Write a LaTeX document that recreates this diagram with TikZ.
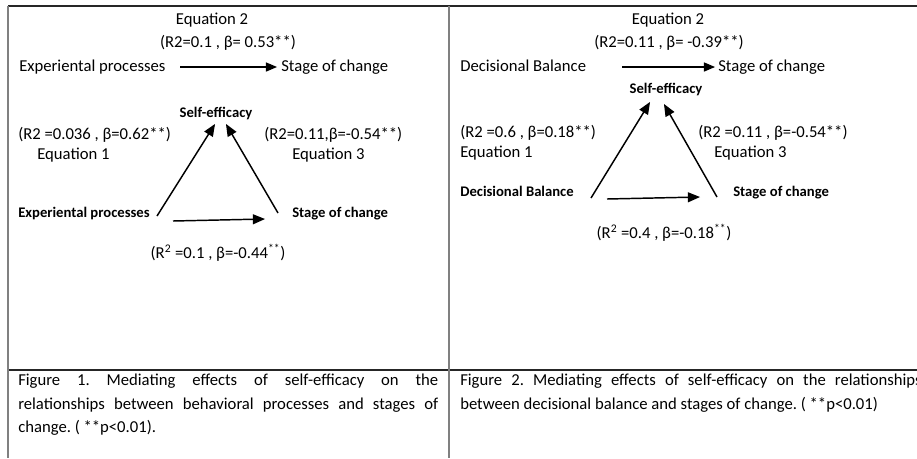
\documentclass[tikz,border=0pt]{standalone}
\usepackage{fontspec}
\setmainfont{Carlito}
\usetikzlibrary{arrows}
\frenchspacing

\begin{document}
\begin{tikzpicture}[x=0.75pt,y=-0.75pt,->,>=triangle 45,
    txt/.style={font=\fontsize{12.5}{15}\selectfont,inner sep=0pt},
    var node/.style={font=\fontsize{11}{13}\selectfont\bfseries,inner sep=0pt},
    link/.style={->,line width=1.1pt},
    caption/.style={font=\fontsize{12.5}{17.6}\selectfont,inner sep=0pt,align=justify,anchor=north west}]
  \clip (0,0) rectangle (917,458);
  % table rules
  \path[-,line width=1.1pt,black!85] (8,6) edge (917,6);
  \path[-,line width=1.1pt,black!85] (8,370) edge (917,370);
  \path[-,line width=1.5pt,gray] (8,6) edge (8,458);
  \path[-,line width=1.5pt,gray] (449,6) edge (449,458);

  \begin{scope}% figure 1
    \node[txt,anchor=base] (eqa) at (212,24) {Equation 2};
    \node[txt,anchor=base] (ra) at (228,47) {(R2=0.1 , β= 0.53**)};
    \node[txt,anchor=base west] (expa) at (19,71) {Experiental processes};
    \node[txt,anchor=base west] (soca) at (281,71) {Stage of change};
    \node[var node,anchor=base] (sea) at (216,117) {Self-efficacy};
    \node[txt,anchor=base west] (r1a) at (18,139) {(R2 =0.036 , β=0.62**)};
    \node[txt,anchor=base west] (e1a) at (37,159) {Equation 1};
    \node[txt,anchor=base west] (r3a) at (264,139) {(R2=0.11,β=-0.54**)};
    \node[txt,anchor=base west] (e3a) at (292,159) {Equation 3};
    \node[var node,anchor=base west] (expb) at (18,217) {Experiental processes};
    \node[var node,anchor=base west] (socb) at (292,217) {Stage of change};
    \node[txt,anchor=base] (rba) at (218,258) {(R\textsuperscript{2} =0.1 , β=-0.44\textsuperscript{**})};
    \coordinate (a1) at (180,67);  \coordinate (a2) at (277,67);
    \coordinate (b1) at (157,216); \coordinate (b2) at (215,124);
    \coordinate (c1) at (278,213); \coordinate (c2) at (226,124);
    \coordinate (d1) at (173,221); \coordinate (d2) at (265,219);
    \path[link,line width=0.9pt] (a1) edge (a2);
    \path[link] (b1) edge (b2);
    \path[link] (c1) edge (c2);
    \path[link] (d1) edge (d2);
  \end{scope}

  \begin{scope}% figure 2
    \node[txt,anchor=base] (eqb) at (668,24) {Equation 2};
    \node[txt,anchor=base] (rb) at (669,47) {(R2=0.11 , β= -0.39**)};
    \node[txt,anchor=base west] (dba) at (460,71) {Decisional Balance};
    \node[txt,anchor=base west] (socc) at (718,71) {Stage of change};
    \node[var node,anchor=base] (seb) at (666,93) {Self-efficacy};
    \node[txt,anchor=base west] (r1b) at (460,137) {(R2 =0.6 , β=0.18**)};
    \node[txt,anchor=base west] (e1b) at (460,157) {Equation 1};
    \node[txt,anchor=base west] (r3b) at (698,137) {(R2 =0.11 , β=-0.54**)};
    \node[txt,anchor=base west] (e3b) at (714,157) {Equation 3};
    \node[var node,anchor=base west] (dbb) at (460,196) {Decisional Balance};
    \node[var node,anchor=base west] (socd) at (733,196) {Stage of change};
    \node[txt,anchor=base] (rbb) at (664,238) {(R\textsuperscript{2} =0.4 , β=-0.18\textsuperscript{**})};
    \coordinate (f1) at (622,67);  \coordinate (f2) at (715,67);
    \coordinate (g1) at (591,198); \coordinate (g2) at (650,102);
    \coordinate (h1) at (717,197); \coordinate (h2) at (664,104);
    \coordinate (k1) at (607,199); \coordinate (k2) at (700,197);
    \path[link,line width=0.9pt] (f1) edge (f2);
    \path[link] (g1) edge (g2);
    \path[link] (h1) edge (h2);
    \path[link] (k1) edge (k2);
  \end{scope}

  % captions
  \node[caption,text width=315pt] (capa) at (18,374) {Figure 1. Mediating effects of self-efficacy on the\linebreak relationships between behavioral processes and stages of\linebreak change. ( **p<0.01).};
  \node[caption,text width=346pt] (capb) at (460,374) {Figure 2. Mediating effects of self-efficacy on the relationships\linebreak between decisional balance and stages of change. ( **p<0.01)};
\end{tikzpicture}
\end{document}
